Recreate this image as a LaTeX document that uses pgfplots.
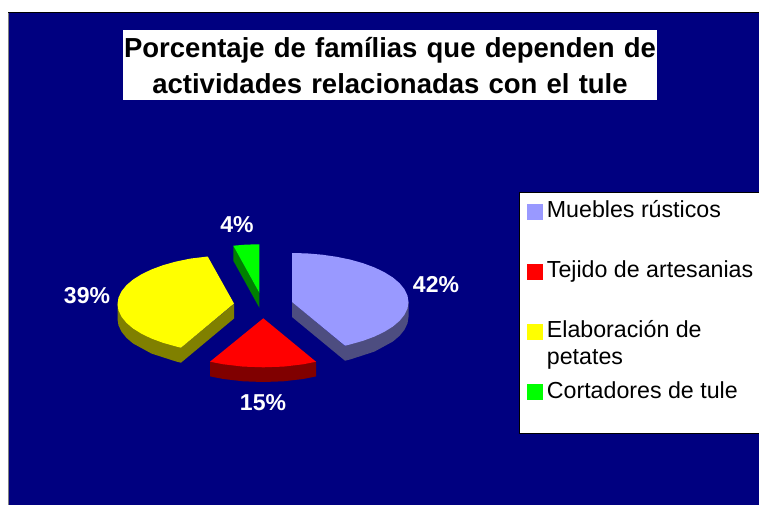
\documentclass[border=0pt]{standalone}
\usepackage{fontspec}
\setmainfont{Liberation Sans}
\usepackage{pgfplots}
\pgfplotsset{compat=1.18}
\definecolor{navybg}{HTML}{000080}
\definecolor{mueblesc}{HTML}{9999FF}
\definecolor{mueblesd}{HTML}{4D4D80}
\definecolor{tejidoc}{HTML}{FF0000}
\definecolor{tejidod}{HTML}{800000}
\definecolor{petatesc}{HTML}{FFFF00}
\definecolor{petatesd}{HTML}{808000}
\definecolor{tulec}{HTML}{00FF00}
\definecolor{tuled}{HTML}{008000}
\pgfplotsset{wedge/.style={forget plot,draw=none,fill=#1}}
\begin{document}
\begin{tikzpicture}
\begin{axis}[
  scale only axis,
  width=759pt,
  height=505pt,
  xmin=0,xmax=759,
  ymin=0,ymax=505,
  y dir=reverse,
  hide axis,
  clip=false,
  title={Porcentaje de famílias que dependen de\\actividades relacionadas con el tule},
  title style={at={(axis cs:390,36)},anchor=north,yshift=0pt,fill=white,align=center,
    font=\fontsize{27.5}{36}\selectfont\bfseries,text width=534pt,inner xsep=0pt,inner ysep=0pt,
    minimum height=70pt,text=black},
  legend style={at={(axis cs:519,191.5)},anchor=north west,draw=black,line width=0.6pt,fill=white,
    font=\fontsize{23.2}{27}\selectfont,inner xsep=8pt,inner ysep=0pt,
    row sep=0pt,column sep=4pt,nodes={inner sep=0pt,anchor=base west,text depth=}},
]
% background
\addplot[wedge=navybg] coordinates {(8,13) (759,13) (759,505) (8,505)} -- cycle;
\addplot[forget plot,black,line width=1pt] coordinates {(8,13) (759,13)};
\addplot[forget plot,gray,line width=1pt] coordinates {(8,13) (8,505)};
% Muebles rusticos
\addplot[wedge=mueblesd] coordinates {
  (292,302) (292,317) (345,360.7) (350.3,359.4) (374.4,351.6) (392.9,341.5) (399.6,335.8)
  (404.5,329.7) (407.5,323.4) (408.5,317) (408.5,302) (345,346)} -- cycle;
\addplot[wedge=mueblesc] coordinates {
  (292,302) (292,253) (307,253.4) (322.2,254.7) (336.6,256.8) (350.3,259.6) (363,263.2)
  (374.4,267.4) (384.4,272.2) (392.9,277.5) (399.6,283.2) (404.5,289.3) (407.5,295.6)
  (408.5,302) (407.5,308.4) (404.5,314.7) (399.6,320.8) (392.9,326.5) (384.4,331.8)
  (374.4,336.6) (363,340.8) (350.3,344.4) (345,345.7)} -- cycle;
% Tejido de artesanias
\addplot[wedge=tejidod] coordinates {
  (210,361.7) (210,376.4) (223.5,379) (243.1,381.3) (263.3,382) (283.5,381.3) (303.1,379)
  (316,376.4) (316,361.7)} -- cycle;
\addplot[wedge=tejidoc] coordinates {
  (263.3,318.3) (210,361.7) (223.5,364.3) (243.1,366.6) (263.3,367.3) (283.5,366.6)
  (303.1,364.3) (316,361.7)} -- cycle;
% Elaboracion de petates
\addplot[wedge=petatesd] coordinates {
  (234,304) (234,318.5) (181,362.7) (175.8,361.4) (151.6,353.6) (133.1,343.5) (126.4,337.8)
  (121.5,331.7) (118.5,325.4) (117.5,319) (117.5,304) (181,347.7)} -- cycle;
\addplot[wedge=petatesc] coordinates {
  (234,303.5) (207.7,256.5) (190.3,258.6) (175.8,261.6) (163,265.2) (151.6,269.4)
  (141.6,274.2) (133.1,279.5) (126.4,285.2) (121.5,291.3) (118.5,297.6) (117.5,304)
  (118.5,310.4) (121.5,316.7) (126.4,322.8) (133.1,328.5) (141.6,333.8) (151.6,338.6)
  (163,342.8) (175.8,346.4) (181,347.7)} -- cycle;
% Cortadores de tule
\addplot[wedge=tuled] coordinates {
  (233.3,245.7) (233.3,260.7) (259.3,307.7) (259.3,292.7)} -- cycle;
\addplot[wedge=tulec] coordinates {
  (233.3,245.7) (246,244.6) (259.3,244.3) (259.3,292.7)} -- cycle;
% percentage labels
\begin{scope}[every node/.style={text=white,font=\fontsize{23}{26}\selectfont\bfseries}]
\node at (axis cs:436,285) {42\%};
\node at (axis cs:263,403) {15\%};
\node at (axis cs:87,296) {39\%};
\node at (axis cs:237,225) {4\%};
\end{scope}
% legend
\addlegendimage{legend image code/.code={\fill[mueblesc] (0pt,-1pt) rectangle (15pt,14pt);}}
\addlegendentry{\parbox[t]{220pt}{\rule{0pt}{26pt}Muebles rústicos\rule[-43.3pt]{0pt}{43.3pt}}}
\addlegendimage{legend image code/.code={\fill[tejidoc] (0pt,-1pt) rectangle (15pt,14pt);}}
\addlegendentry{\parbox[t]{220pt}{\rule{0pt}{14pt}Tejido de artesanias\rule[-43pt]{0pt}{43pt}}}
\addlegendimage{legend image code/.code={\fill[petatesc] (0pt,-1pt) rectangle (15pt,14pt);}}
\addlegendentry{\parbox[t]{220pt}{\rule{0pt}{14pt}Elaboración de\\petates\rule[-16.2pt]{0pt}{16.2pt}}}
\addlegendimage{legend image code/.code={\fill[tulec] (0pt,-1pt) rectangle (15pt,14pt);}}
\addlegendentry{\parbox[t]{220pt}{\rule{0pt}{14pt}Cortadores de tule\rule[-35pt]{0pt}{35pt}}}
\end{axis}
\pgfresetboundingbox
\path (0,0) rectangle (759pt,505pt);
\end{tikzpicture}
\end{document}
